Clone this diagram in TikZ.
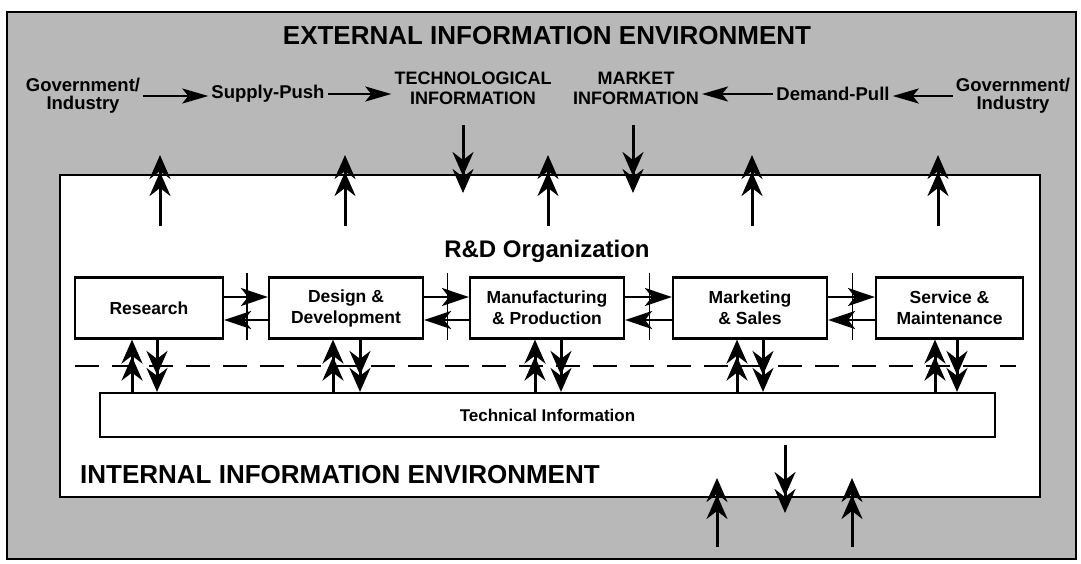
\documentclass[tikz,border=0pt]{standalone}
\usepackage{fontspec}
\setmainfont{Liberation Sans}
\usetikzlibrary{arrows.meta,calc}
\begin{document}
\begin{tikzpicture}[x=1pt,y=-1pt,
  box/.style={draw,line width=2.2pt,fill=white,minimum height=61pt,align=center,inner sep=2pt,
    font=\bfseries\fontsize{17.5}{21}\selectfont},
  lbl/.style={align=center,inner sep=3pt,font=\bfseries\fontsize{18.5}{18}\selectfont},
  big/.style={font=\bfseries\fontsize{26}{30}\selectfont,inner sep=0pt},
  vup/.style={line width=3pt,-{Stealth[length=24pt,width=21pt,inset=8pt,sep=-7pt]Stealth[length=24pt,width=21pt,inset=8pt]}},
  hx/.style={line width=2.4pt,-{Stealth[length=27pt,width=18pt,inset=7pt]}},
  tx/.style={line width=2.4pt,-{Stealth[length=26pt,width=15pt,inset=6pt]}},
  tick/.style={line width=1.4pt},
  dline/.style={line width=2.2pt,dash pattern=on 24pt off 13pt}
]
\useasboundingbox (0,0) rectangle (1081,563);
% environments
\node[draw,line width=1.8pt,fill=black!28,minimum width=1069pt,minimum height=547pt,inner sep=0pt] (outer) at (541.5,285.5) {};
\node[draw,line width=2.8pt,fill=white,minimum width=980pt,minimum height=322pt,inner sep=0pt] (inner) at (550,336) {};
\node[big] (title) at (547,36) {EXTERNAL INFORMATION ENVIRONMENT};
\node[big,anchor=base west] (intl) at (80,483) {INTERNAL INFORMATION ENVIRONMENT};
% top row
\node[lbl] (gov1) at (83,96) {Government/\\Industry};
\node[lbl] (push) at (268,94) {Supply-Push};
\node[lbl,font=\bfseries\fontsize{18}{20}\selectfont] (tech) at (473,88) {TECHNOLOGICAL\\INFORMATION};
\node[lbl,font=\bfseries\fontsize{18}{20}\selectfont] (market) at (636,88) {MARKET\\INFORMATION};
\node[lbl] (pull) at (833,94) {Demand-Pull};
\node[lbl] (gov2) at (1013,96) {Government/\\Industry};
\draw[tx] (gov1.east) -- (gov1.east -| push.west);
\draw[tx] (push.east) -- (push.east -| tech.west);
\draw[tx] (pull.west) -- (pull.west -| market.east);
\draw[tx] (gov2.west) -- (gov2.west -| pull.east);
% arrows across top border
\foreach \x [count=\i] in {160,345,548,752,938} {
  \coordinate (ua\i) at (\x,226); \coordinate (ub\i) at (\x,155);
  \draw[vup] (ua\i) -- (ub\i);
}
\foreach \x [count=\i] in {463,633} {
  \coordinate (da\i) at (\x,125); \coordinate (db\i) at (\x,193);
  \draw[vup] (da\i) -- (db\i);
}
% arrows across bottom border
\foreach \x [count=\i] in {717,852} {
  \coordinate (ba\i) at (\x,547); \coordinate (bb\i) at (\x,478);
  \draw[vup] (ba\i) -- (bb\i);
}
\coordinate (bc1) at (785,445); \coordinate (bc2) at (785,513);
\draw[vup] (bc1) -- (bc2);
% R&D organization
\node[font=\bfseries\fontsize{24}{28}\selectfont] (rd) at (547,251) {R\&D Organization};
\coordinate (dl) at (75,366); \coordinate (dr) at (1016,366);
\draw[dline] (dl) -- (dr);
\node[box,minimum width=148pt] (res) at (149,308) {Research};
\node[box,minimum width=154pt] (des) at (346,308) {Design \&\\Development};
\node[box,minimum width=154pt] (man) at (547,308) {Manufacturing\\\& Production};
\node[box,minimum width=154pt] (mkt) at (750,308) {Marketing\\\& Sales};
\node[box,minimum width=147pt] (ser) at (949.5,308) {Service \&\\Maintenance};
\node[box,minimum width=895pt,minimum height=44pt,font=\bfseries\fontsize{17}{20}\selectfont] (ti) at (547.5,415) {Technical Information};
% horizontal flows
\foreach \a/\b in {res/des,des/man,man/mkt,mkt/ser} {
  \draw[tick] ($(\a.north east)!.5!(\b.north west)+(1,-3)$) -- ($(\a.south east)!.5!(\b.south west)+(1,0)$);
  \draw[hx] ([yshift=11pt]\a.east) -- ([yshift=11pt]\b.west);
  \draw[hx] ([yshift=-12pt]\b.west) -- ([yshift=-12pt]\a.east);
}
% vertical flows to technical information
\foreach \b/\u/\d in {res/-17/8,des/-13/14,man/-12/14,mkt/-13/13,ser/-14.5/7.5} {
  \draw[vup] ([xshift=\u pt]\b.south |- ti.north) -- ([xshift=\u pt]\b.south);
  \draw[vup] ([xshift=\d pt]\b.south) -- ([xshift=\d pt]\b.south |- ti.north);
}
\end{tikzpicture}
\end{document}
